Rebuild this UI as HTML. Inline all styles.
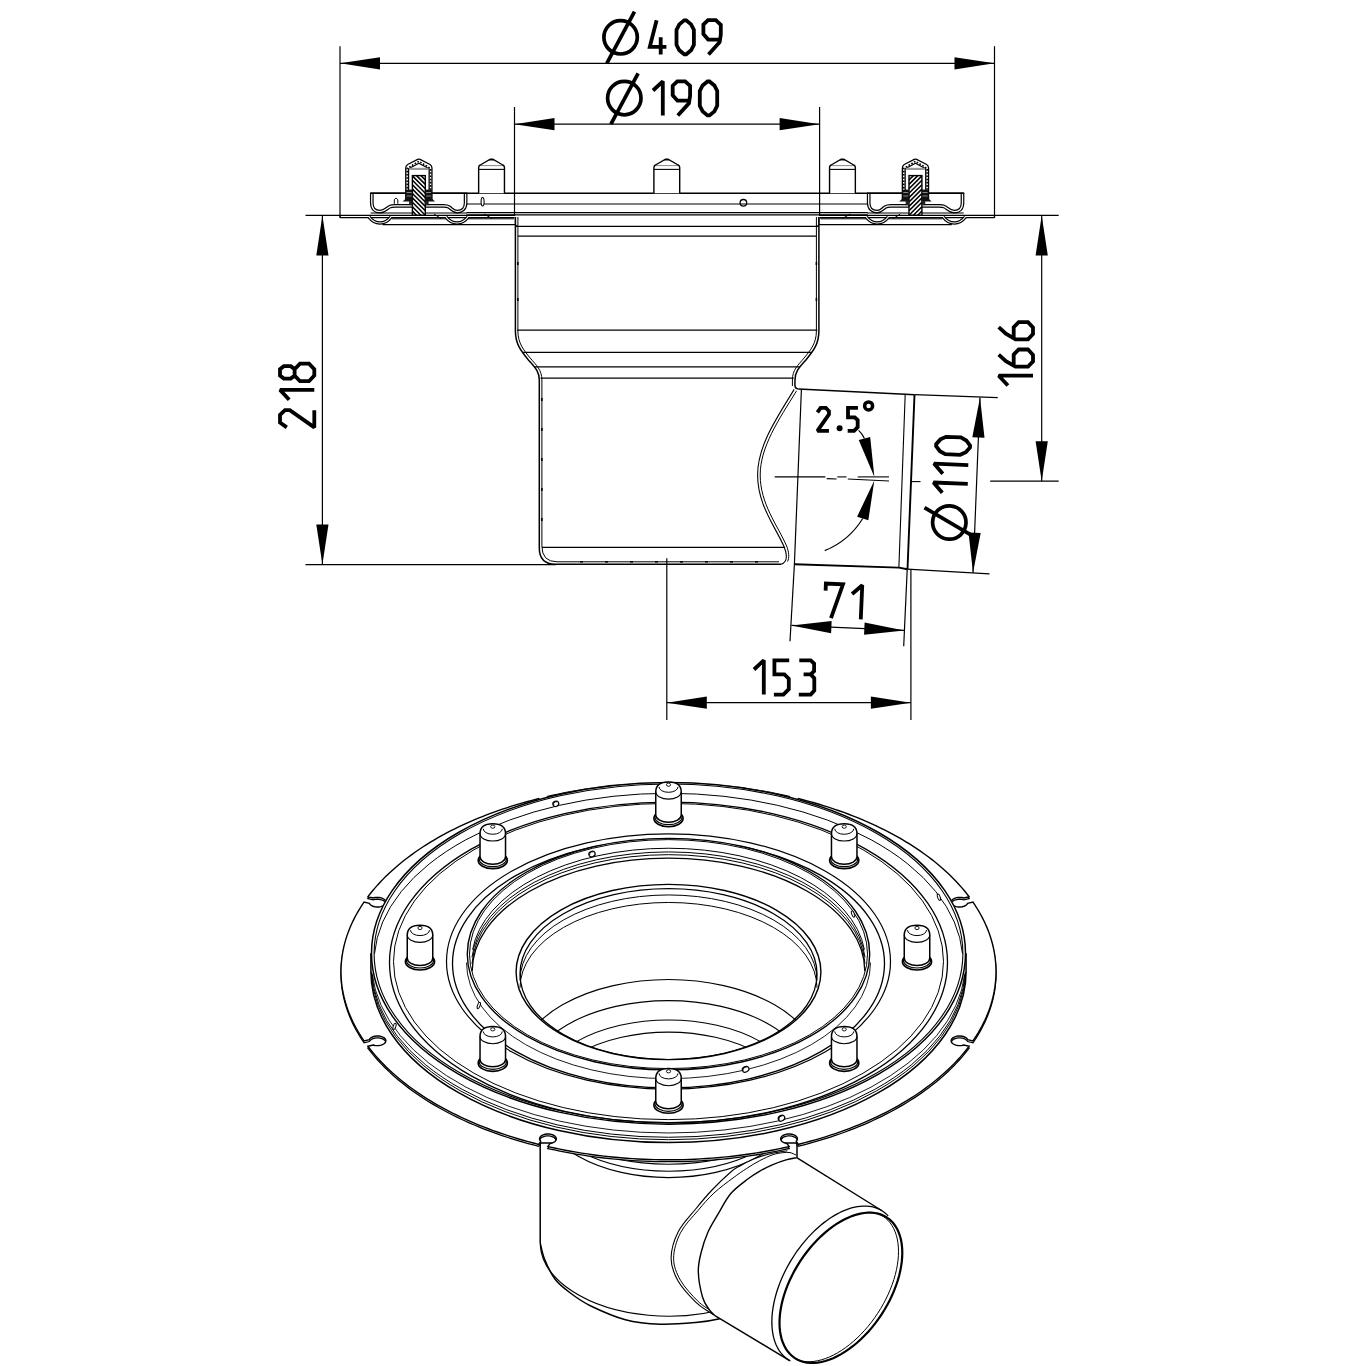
<!DOCTYPE html>
<html><head><meta charset="utf-8"><title>Drawing</title>
<style>
html,body{margin:0;padding:0;background:#fff;}
body{width:1366px;height:1366px;overflow:hidden;font-family:"Liberation Sans",sans-serif;}
svg{display:block}
</style></head><body>
<svg width="1366" height="1366" viewBox="0 0 1366 1366" shape-rendering="geometricPrecision">
<rect width="1366" height="1366" fill="#fff"/>
<path d="M340.00,46.20 L340.00,217.50" stroke="#000" stroke-width="1.2" fill="none" />
<path d="M994.50,46.20 L994.50,217.50" stroke="#000" stroke-width="1.2" fill="none" />
<path d="M340.00,63.30 L994.50,63.30" stroke="#000" stroke-width="1.2" fill="none" />
<path d="M340.00,63.30 L380.00,69.40 L380.00,57.20 Z" fill="#000" stroke="none"/>
<path d="M994.50,63.30 L954.50,57.20 L954.50,69.40 Z" fill="#000" stroke="none"/>
<g transform="translate(620.60,37.30) rotate(0)" fill="none" stroke="#000" stroke-width="3.7"><circle r="16.7"/><path d="M-13.8,26.1 L13.9,-25.6"/></g>
<g transform="translate(649.80,20.20) rotate(0) scale(1.0)" fill="none" stroke="#000" stroke-width="3.80" stroke-linejoin="miter" stroke-miterlimit="2" stroke-linecap="butt"><path transform="translate(0.00,0)" d="M6.8,0 L0,26.6 L16.6,26.6 M10.9,17 L10.9,34.3"/><path transform="translate(26.70,0)" d="M7.7,0.2 L9.7,0.2 L14.6,4.2 L17.4,9.7 L17.4,24.6 L14.6,30.1 L9.7,34.1 L7.7,34.1 L2.8,30.1 L0,24.6 L0,9.7 L2.8,4.2 Z"/><path transform="translate(53.60,0)" d="M5.1,34.3 L16.2,22 L17.4,14.5 L17.4,4.6 L12.4,0 L4.6,0 L0,4.4 L0,13.9 L4.8,19.4 L16.6,19.4"/></g>
<path d="M514.50,107.00 L514.50,216.00" stroke="#000" stroke-width="1.2" fill="none" />
<path d="M819.60,107.00 L819.60,216.00" stroke="#000" stroke-width="1.2" fill="none" />
<path d="M514.50,124.20 L819.60,124.20" stroke="#000" stroke-width="1.2" fill="none" />
<path d="M514.50,124.20 L554.50,130.30 L554.50,118.10 Z" fill="#000" stroke="none"/>
<path d="M819.60,124.20 L779.60,118.10 L779.60,130.30 Z" fill="#000" stroke="none"/>
<g transform="translate(624.30,98.10) rotate(0)" fill="none" stroke="#000" stroke-width="3.7"><circle r="16.7"/><path d="M-13.4,26.1 L13.8,-24.8"/></g>
<g transform="translate(653.00,81.30) rotate(0) scale(1.0)" fill="none" stroke="#000" stroke-width="3.80" stroke-linejoin="miter" stroke-miterlimit="2" stroke-linecap="butt"><path transform="translate(0.00,0)" d="M0,9.2 L9.8,0 L9.8,34.3"/><path transform="translate(19.70,0)" d="M5.1,34.3 L16.2,22 L17.4,14.5 L17.4,4.6 L12.4,0 L4.6,0 L0,4.4 L0,13.9 L4.8,19.4 L16.6,19.4"/><path transform="translate(46.80,0)" d="M7.7,0.2 L9.7,0.2 L14.6,4.2 L17.4,9.7 L17.4,24.6 L14.6,30.1 L9.7,34.1 L7.7,34.1 L2.8,30.1 L0,24.6 L0,9.7 L2.8,4.2 Z"/></g>
<path d="M305.50,215.40 L341.00,215.40" stroke="#000" stroke-width="1.2" fill="none" />
<path d="M305.50,564.60 L556.00,564.60" stroke="#000" stroke-width="1.2" fill="none" />
<path d="M322.40,215.40 L322.40,564.60" stroke="#000" stroke-width="1.2" fill="none" />
<path d="M322.40,215.40 L316.30,255.40 L328.50,255.40 Z" fill="#000" stroke="none"/>
<path d="M322.40,564.60 L328.50,524.60 L316.30,524.60 Z" fill="#000" stroke="none"/>
<g transform="translate(280.00,427.40) rotate(-90) scale(1.0)" fill="none" stroke="#000" stroke-width="3.80" stroke-linejoin="miter" stroke-miterlimit="2" stroke-linecap="butt"><path transform="translate(0.00,0)" d="M0,6.8 L4.8,0 L12.5,0 L17.2,5 L17.2,9.8 L0,34.3 L17.2,34.3"/><path transform="translate(27.70,0)" d="M0,9.2 L9.8,0 L9.8,34.3"/><path transform="translate(46.20,0)" d="M5.6,0 L12,0 L15,3.8 L15,10.8 L12,14.6 L5.6,14.6 L2.6,10.8 L2.6,3.8 Z M5.6,14.6 L12,14.6 L17.6,20 L17.6,29 L12,34.3 L5.6,34.3 L0,29 L0,20 Z"/></g>
<path d="M994.50,215.40 L1058.70,215.40" stroke="#000" stroke-width="1.2" fill="none" />
<path d="M990.20,481.20 L1058.70,481.20" stroke="#000" stroke-width="1.2" fill="none" />
<path d="M1041.70,215.40 L1041.70,481.20" stroke="#000" stroke-width="1.2" fill="none" />
<path d="M1041.70,215.40 L1035.60,255.40 L1047.80,255.40 Z" fill="#000" stroke="none"/>
<path d="M1041.70,481.20 L1047.80,441.20 L1035.60,441.20 Z" fill="#000" stroke="none"/>
<g transform="translate(998.70,385.50) rotate(-90) scale(1.0)" fill="none" stroke="#000" stroke-width="3.80" stroke-linejoin="miter" stroke-miterlimit="2" stroke-linecap="butt"><path transform="translate(0.00,0)" d="M0,9.2 L9.8,0 L9.8,34.3"/><path transform="translate(18.80,0)" d="M12.1,0 L5.6,7.2 L0,16.8 L0,29.3 L5.3,34.3 L11.8,34.3 L17.2,29.3 L17.2,20 L12.1,15 L1.2,15"/><path transform="translate(46.20,0)" d="M12.1,0 L5.6,7.2 L0,16.8 L0,29.3 L5.3,34.3 L11.8,34.3 L17.2,29.3 L17.2,20 L12.1,15 L1.2,15"/></g>
<path d="M914.50,394.60 L997.70,397.70" stroke="#000" stroke-width="1.2" fill="none" />
<path d="M907.30,569.20 L989.50,573.90" stroke="#000" stroke-width="1.2" fill="none" />
<path d="M980.00,397.60 L973.00,572.80" stroke="#000" stroke-width="1.2" fill="none" />
<path d="M980.00,397.60 L972.31,437.32 L984.50,437.81 Z" fill="#000" stroke="none"/>
<path d="M973.00,572.80 L980.69,533.08 L968.50,532.59 Z" fill="#000" stroke="none"/>
<g transform="translate(949.30,522.50) rotate(-87.6)" fill="none" stroke="#000" stroke-width="3.7"><circle r="16.7"/><path d="M-13.6,26.0 L13.8,-25.4"/></g>
<g transform="translate(933.10,492.30) rotate(-87.6) scale(1.0)" fill="none" stroke="#000" stroke-width="3.80" stroke-linejoin="miter" stroke-miterlimit="2" stroke-linecap="butt"><path transform="translate(0.00,0)" d="M0,9.2 L9.8,0 L9.8,34.3"/></g>
<g transform="translate(933.60,473.40) rotate(-87.6) scale(1.0)" fill="none" stroke="#000" stroke-width="3.80" stroke-linejoin="miter" stroke-miterlimit="2" stroke-linecap="butt"><path transform="translate(0.00,0)" d="M0,9.2 L9.8,0 L9.8,34.3"/></g>
<g transform="translate(935.60,453.80) rotate(-87.6) scale(1.0)" fill="none" stroke="#000" stroke-width="3.80" stroke-linejoin="miter" stroke-miterlimit="2" stroke-linecap="butt"><path transform="translate(0.00,0)" d="M7.7,0.2 L9.7,0.2 L14.6,4.2 L17.4,9.7 L17.4,24.6 L14.6,30.1 L9.7,34.1 L7.7,34.1 L2.8,30.1 L0,24.6 L0,9.7 L2.8,4.2 Z"/></g>
<path d="M794.40,564.30 L790.00,641.20" stroke="#000" stroke-width="1.2" fill="none" />
<path d="M907.20,569.50 L903.70,646.30" stroke="#000" stroke-width="1.2" fill="none" />
<path d="M791.40,625.40 L904.30,630.40" stroke="#000" stroke-width="1.2" fill="none" />
<path d="M791.40,625.40 L831.10,633.24 L831.63,621.05 Z" fill="#000" stroke="none"/>
<path d="M904.30,630.40 L864.60,622.56 L864.07,634.75 Z" fill="#000" stroke="none"/>
<g transform="translate(825.90,583.60) rotate(2.5) scale(1.0)" fill="none" stroke="#000" stroke-width="3.80" stroke-linejoin="miter" stroke-miterlimit="2" stroke-linecap="butt"><path transform="translate(0.00,0)" d="M0,7 L0,0 L17.1,0 L6.6,34.3"/><path transform="translate(26.60,0)" d="M0,9.2 L9.8,0 L9.8,34.3"/></g>
<path d="M666.80,558.20 L666.80,720.10" stroke="#000" stroke-width="1.2" fill="none" />
<path d="M910.90,569.00 L910.90,720.10" stroke="#000" stroke-width="1.2" fill="none" />
<path d="M666.80,702.70 L910.90,702.70" stroke="#000" stroke-width="1.2" fill="none" />
<path d="M666.80,702.70 L706.80,708.80 L706.80,696.60 Z" fill="#000" stroke="none"/>
<path d="M910.90,702.70 L870.90,696.60 L870.90,708.80 Z" fill="#000" stroke="none"/>
<g transform="translate(754.00,660.30) rotate(0) scale(1.0)" fill="none" stroke="#000" stroke-width="3.80" stroke-linejoin="miter" stroke-miterlimit="2" stroke-linecap="butt"><path transform="translate(0.00,0)" d="M0,9.2 L9.8,0 L9.8,34.3"/><path transform="translate(20.40,0)" d="M14.8,0 L0,0 L0,14.1 L10,14.1 L14.4,18.4 L14.4,28.8 L9,34.3 L-0.5,34.3"/><path transform="translate(45.30,0)" d="M0,0 L11.4,0 L14.8,3.2 L14.8,10.8 L11.4,14.1 L4.3,14.1 M11.4,14.1 L15,17.9 L15,30.3 L11.4,34.3 L-0.5,34.3"/></g>
<path d="M874.40,477.00 L870.16,437.03 L858.73,439.98 Z" fill="#000"/>
<path d="M874.32,480.60 L857.06,516.76 L868.34,520.22 Z" fill="#000"/>
<path d="M862.70,518.49 A79.4,79.4 0 0 1 824.74,550.62" stroke="#000" stroke-width="1.2" fill="none" />
<path d="M864.44,438.51 Q862.5,434 858.6,430.4" stroke="#000" stroke-width="1.2" fill="none" />
<path d="M774.70,476.90 L825.40,476.90" stroke="#000" stroke-width="1.1" fill="none" />
<path d="M837.30,476.90 L846.50,476.90" stroke="#000" stroke-width="1.1" fill="none" />
<path d="M857.70,476.90 L889.00,476.90" stroke="#000" stroke-width="1.1" fill="none" />
<path d="M826.70,478.60 L836.60,479.00" stroke="#000" stroke-width="1.1" fill="none" />
<path d="M847.80,479.00 L889.00,481.00" stroke="#000" stroke-width="1.1" fill="none" />
<path d="M912.00,481.60 L920.50,481.60" stroke="#000" stroke-width="1.1" fill="none" />
<g transform="translate(817.40,407.80) rotate(0) scale(0.672)" fill="none" stroke="#000" stroke-width="5.65" stroke-linejoin="miter" stroke-miterlimit="2" stroke-linecap="butt"><path transform="translate(0.00,0)" d="M0,6.8 L4.8,0 L12.5,0 L17.2,5 L17.2,9.8 L0,34.3 L17.2,34.3"/></g>
<circle cx="839.6" cy="428.2" r="3.0" fill="#000"/>
<g transform="translate(848.00,407.80) rotate(0) scale(0.672)" fill="none" stroke="#000" stroke-width="5.65" stroke-linejoin="miter" stroke-miterlimit="2" stroke-linecap="butt"><path transform="translate(0.00,0)" d="M14.8,0 L0,0 L0,14.1 L10,14.1 L14.4,18.4 L14.4,28.8 L9,34.3 L-0.5,34.3"/></g>
<circle cx="868.6" cy="405.9" r="4.0" fill="none" stroke="#000" stroke-width="3.5"/>
<path d="M340,215.4 L514.5,215.4 M340,217.7 L514.5,217.7 M340,215.4 L340,217.7" stroke="#000" stroke-width="1.2" fill="none" />
<path d="M819.6,215.4 L994.5,215.4 M819.6,217.7 L994.5,217.7 M994.5,215.4 L994.5,217.7" stroke="#000" stroke-width="1.2" fill="none" />
<path d="M370.60,193.30 L963.70,193.30" stroke="#000" stroke-width="1.5" fill="none" />
<path d="M466.50,204.00 L867.80,204.00" stroke="#000" stroke-width="1.1" fill="none" />
<path d="M466.50,212.70 L867.80,212.70" stroke="#000" stroke-width="1.3" fill="none" />
<path d="M466.50,214.80 L867.80,214.80" stroke="#000" stroke-width="1.3" fill="none" />
<circle cx="743.4" cy="202.8" r="3.3" fill="#fff" stroke="#000" stroke-width="1.3"/>
<path d="M740.20,204.00 L746.60,204.00" stroke="#000" stroke-width="1.0" fill="none" />
<path d="M515.4,217 L515.4,331 C515.4,344 521,351 528,359.5 C534.5,367 539.3,371 539.3,380 L539.3,548 Q539.3,564.2 555.5,564.2 L781,564.2" stroke="#000" stroke-width="1.5" fill="none" />
<path d="M517.9,226 L517.9,331 C517.9,343 523.5,350 530.2,358 C536.5,365.5 541.9,370 541.9,380 L541.9,546 Q541.9,561.8 557,561.8 L779,561.8" stroke="#000" stroke-width="1.0" fill="none" />
<path d="M818.9,217 L818.9,331 C818.9,344 813.3,351 806.3,359.5 C799.8,367 795.0,371 795.0,380 L794.9,385 Q794.9,388.7 798.5,388.9" stroke="#000" stroke-width="1.5" fill="none" />
<path d="M816.4,226 L816.4,331 C816.4,343 810.8,350 804.1,358 C797.8,365.5 792.4,370 792.4,380 L792.4,386" stroke="#000" stroke-width="1.0" fill="none" />
<path d="M515.4,217 L515.4,224 Q515.4,226.3 517.9,226.3 L517.9,217" stroke="#000" stroke-width="1.0" fill="none" />
<path d="M818.9,217 L818.9,224 Q818.9,226.3 816.4,226.3 L816.4,217" stroke="#000" stroke-width="1.0" fill="none" />
<path d="M515.40,226.40 L818.90,226.40" stroke="#000" stroke-width="1.2" fill="none" />
<path d="M517.90,236.20 L816.40,236.20" stroke="#000" stroke-width="1.2" fill="none" />
<path d="M517.00,330.20 L817.30,330.20" stroke="#000" stroke-width="1.2" fill="none" />
<path d="M523.20,352.30 L811.10,352.30" stroke="#000" stroke-width="1.2" fill="none" />
<path d="M534.20,366.90 L800.10,366.90" stroke="#000" stroke-width="1.2" fill="none" />
<path d="M540.50,378.20 L793.80,378.20" stroke="#000" stroke-width="1.2" fill="none" />
<path d="M541.90,547.40 L785.00,547.40" stroke="#000" stroke-width="1.2" fill="none" />
<path d="M517.90,262.00 L517.90,265.00" stroke="#000" stroke-width="1.6" fill="none" />
<path d="M816.40,262.00 L816.40,265.00" stroke="#000" stroke-width="1.6" fill="none" />
<path d="M517.90,298.00 L517.90,301.00" stroke="#000" stroke-width="1.6" fill="none" />
<path d="M816.40,298.00 L816.40,301.00" stroke="#000" stroke-width="1.6" fill="none" />
<path d="M541.90,398.00 L541.90,401.00" stroke="#000" stroke-width="1.6" fill="none" />
<path d="M541.90,428.00 L541.90,431.00" stroke="#000" stroke-width="1.6" fill="none" />
<path d="M541.90,458.00 L541.90,461.00" stroke="#000" stroke-width="1.6" fill="none" />
<path d="M541.90,488.00 L541.90,491.00" stroke="#000" stroke-width="1.6" fill="none" />
<path d="M541.90,518.00 L541.90,521.00" stroke="#000" stroke-width="1.6" fill="none" />
<path d="M580.00,561.80 L583.00,561.80" stroke="#000" stroke-width="1.6" fill="none" />
<path d="M605.00,561.80 L608.00,561.80" stroke="#000" stroke-width="1.6" fill="none" />
<path d="M630.00,561.80 L633.00,561.80" stroke="#000" stroke-width="1.6" fill="none" />
<path d="M655.00,561.80 L658.00,561.80" stroke="#000" stroke-width="1.6" fill="none" />
<path d="M680.00,561.80 L683.00,561.80" stroke="#000" stroke-width="1.6" fill="none" />
<path d="M705.00,561.80 L708.00,561.80" stroke="#000" stroke-width="1.6" fill="none" />
<path d="M730.00,561.80 L733.00,561.80" stroke="#000" stroke-width="1.6" fill="none" />
<path d="M755.00,561.80 L758.00,561.80" stroke="#000" stroke-width="1.6" fill="none" />
<path d="M798.5,388.9 L905.2,394.2 L914.5,394.8" stroke="#000" stroke-width="1.5" fill="none" />
<path d="M914.5,394.8 L907.5,569.2" stroke="#000" stroke-width="1.9" fill="none" />
<path d="M905.2,394.2 L898.9,567.0" stroke="#000" stroke-width="1.1" fill="none" />
<path d="M794.4,564.3 L898.9,567.6 L907.5,569.2" stroke="#000" stroke-width="1.9" fill="none" />
<path d="M801.4,389.6 L794.4,564.3" stroke="#000" stroke-width="1.2" fill="none" />
<path d="M794.2,389.4 C776,419 757.6,446 757.6,475 C757.6,505 775,526 784.2,547 C786.6,553 787,558 785.3,561 Q783.8,563.6 781,564.2" stroke="#000" stroke-width="1.1" fill="none" />
<path d="M796.6,390.8 C778.5,420 760.2,447 760.2,475 C760.2,504 777.5,525 786.6,546 C789,552 789.5,558 787.5,561.5" stroke="#000" stroke-width="1.0" fill="none" />
<path d="M371.8,193.3 L371.8,203 C371.8,208.6 375,211.6 380,211.6 C385,211.6 387,208 390,206.6 C391.5,205.8 393,205.8 395,205.8 L443.5,205.8 C446,205.8 447.5,206 449,207 C452,209 453,211.6 457.3,211.6 C462,211.6 465.6,208.6 465.6,203 L465.6,193.3" fill="none" stroke="#000" stroke-width="3.7"/>
<path d="M371.8,193.3 L371.8,203 C371.8,208.6 375,211.6 380,211.6 C385,211.6 387,208 390,206.6 C391.5,205.8 393,205.8 395,205.8 L443.5,205.8 C446,205.8 447.5,206 449,207 C452,209 453,211.6 457.3,211.6 C462,211.6 465.6,208.6 465.6,203 L465.6,193.3" fill="none" stroke="#fff" stroke-width="1.3"/>
<path d="M370.00,193.30 L467.40,193.30" stroke="#000" stroke-width="1.5" fill="none" />
<path d="M370.60,213.00 L467.00,213.00" stroke="#000" stroke-width="1.2" fill="none" />
<path d="M392.00,218.80 L446.00,218.80" stroke="#000" stroke-width="1.0" fill="none" />
<path d="M468.00,218.80 L514.00,218.80" stroke="#000" stroke-width="1.0" fill="none" />
<path d="M369.0,217 C372.0,221 376.0,223 380.0,223 C384.0,223 388.0,221 391.0,217" fill="none" stroke="#000" stroke-width="3.4"/>
<path d="M369.0,217 C372.0,221 376.0,223 380.0,223 C384.0,223 388.0,221 391.0,217" fill="none" stroke="#fff" stroke-width="1.1"/>
<path d="M446.0,217 C449.0,221 453.0,223 457.0,223 C461.0,223 465.0,221 468.0,217" fill="none" stroke="#000" stroke-width="3.4"/>
<path d="M446.0,217 C449.0,221 453.0,223 457.0,223 C461.0,223 465.0,221 468.0,217" fill="none" stroke="#fff" stroke-width="1.1"/>
<path d="M382.50,224.70 L515.40,224.70" stroke="#000" stroke-width="1.3" fill="none" />
<path d="M434.00,214.00 L441.00,218.60" stroke="#000" stroke-width="1.0" fill="none" />
<path d="M484.00,214.00 L492.00,218.60" stroke="#000" stroke-width="1.0" fill="none" />
<rect x="412.40" y="175.6" width="12.90" height="39.6" fill="#fff" stroke="#000" stroke-width="1.4"/>
<path d="M425.30,180.00 L420.90,175.60 M425.30,184.40 L416.50,175.60 M425.30,188.80 L412.40,175.90 M425.30,193.20 L412.40,180.30 M425.30,197.60 L412.40,184.70 M425.30,202.00 L412.40,189.10 M425.30,206.40 L412.40,193.50 M425.30,210.80 L412.40,197.90 M425.30,215.20 L412.40,202.30 M420.90,215.20 L412.40,206.70 M416.50,215.20 L412.40,211.10" stroke="#000" stroke-width="1.5" fill="none"/>
<path d="M405.75,201 L405.75,168.0 Q405.75,165.6 407.65000000000003,164.5 L417.65000000000003,159.4 Q418.85,158.8 420.05,159.4 L430.05,164.5 Q431.95000000000005,165.6 431.95000000000005,168.0 L431.95000000000005,201" fill="none" stroke="#000" stroke-width="1.3" stroke-linejoin="round"/>
<path d="M408.55,190 L408.55,168.8 L418.85,163.2 L429.15000000000003,168.8 L429.15000000000003,190" fill="none" stroke="#000" stroke-width="1.3" stroke-linejoin="round"/>
<path d="M407.15000000000003,198 L407.15000000000003,168.4 L418.85,161.3 L430.55,168.4 L430.55,198" fill="none" stroke="#000" stroke-width="1.6" stroke-dasharray="1.6 1.6"/>
<path d="M409.25,168.9 L428.45000000000005,168.9" stroke="#999" stroke-width="2.2" fill="none"/>
<rect x="405.85" y="189.6" width="6.6" height="11" fill="#111"/>
<rect x="425.25" y="189.6" width="6.6" height="11" fill="#111"/>
<path d="M402.65000000000003,201.6 L405.85,198.6 L412.45000000000005,198.6 L412.45000000000005,201.6 Z" fill="#111"/>
<path d="M435.05,201.6 L431.85,198.6 L425.25,198.6 L425.25,201.6 Z" fill="#111"/>
<rect x="409.05" y="201" width="3.4" height="4.2" fill="#222"/>
<rect x="425.25" y="201" width="3.4" height="4.2" fill="#222"/>
<path d="M406.65000000000003,192.5 L411.65000000000003,192.5 M406.65000000000003,196 L411.65000000000003,196 M426.05,192.5 L431.05,192.5 M426.05,196 L431.05,196" stroke="#bbb" stroke-width="0.7"/>
<path d="M962.5,193.3 L962.5,203 C962.5,208.6 959.3,211.6 954.3,211.6 C949.3,211.6 947.3,208 944.3,206.6 C942.8,205.8 941.3,205.8 939.3,205.8 L890.8,205.8 C888.3,205.8 886.8,206 885.3,207 C882.3,209 881.3,211.6 877.0,211.6 C872.3,211.6 868.6999999999999,208.6 868.6999999999999,203 L868.6999999999999,193.3" fill="none" stroke="#000" stroke-width="3.7"/>
<path d="M962.5,193.3 L962.5,203 C962.5,208.6 959.3,211.6 954.3,211.6 C949.3,211.6 947.3,208 944.3,206.6 C942.8,205.8 941.3,205.8 939.3,205.8 L890.8,205.8 C888.3,205.8 886.8,206 885.3,207 C882.3,209 881.3,211.6 877.0,211.6 C872.3,211.6 868.6999999999999,208.6 868.6999999999999,203 L868.6999999999999,193.3" fill="none" stroke="#fff" stroke-width="1.3"/>
<path d="M964.30,193.30 L866.90,193.30" stroke="#000" stroke-width="1.5" fill="none" />
<path d="M963.70,213.00 L867.30,213.00" stroke="#000" stroke-width="1.2" fill="none" />
<path d="M942.30,218.80 L888.30,218.80" stroke="#000" stroke-width="1.0" fill="none" />
<path d="M866.30,218.80 L820.30,218.80" stroke="#000" stroke-width="1.0" fill="none" />
<path d="M965.3,217 C962.3,221 958.3,223 954.3,223 C950.3,223 946.3,221 943.3,217" fill="none" stroke="#000" stroke-width="3.4"/>
<path d="M965.3,217 C962.3,221 958.3,223 954.3,223 C950.3,223 946.3,221 943.3,217" fill="none" stroke="#fff" stroke-width="1.1"/>
<path d="M888.3,217 C885.3,221 881.3,223 877.3,223 C873.3,223 869.3,221 866.3,217" fill="none" stroke="#000" stroke-width="3.4"/>
<path d="M888.3,217 C885.3,221 881.3,223 877.3,223 C873.3,223 869.3,221 866.3,217" fill="none" stroke="#fff" stroke-width="1.1"/>
<path d="M951.80,224.70 L818.90,224.70" stroke="#000" stroke-width="1.3" fill="none" />
<path d="M900.30,214.00 L893.30,218.60" stroke="#000" stroke-width="1.0" fill="none" />
<path d="M850.30,214.00 L842.30,218.60" stroke="#000" stroke-width="1.0" fill="none" />
<rect x="909.00" y="175.6" width="12.90" height="39.6" fill="#fff" stroke="#000" stroke-width="1.4"/>
<path d="M909.00,180.00 L913.40,175.60 M909.00,184.40 L917.80,175.60 M909.00,188.80 L921.90,175.90 M909.00,193.20 L921.90,180.30 M909.00,197.60 L921.90,184.70 M909.00,202.00 L921.90,189.10 M909.00,206.40 L921.90,193.50 M909.00,210.80 L921.90,197.90 M909.00,215.20 L921.90,202.30 M913.40,215.20 L921.90,206.70 M917.80,215.20 L921.90,211.10" stroke="#000" stroke-width="1.5" fill="none"/>
<path d="M902.3499999999999,201 L902.3499999999999,168.0 Q902.3499999999999,165.6 904.2499999999999,164.5 L914.2499999999999,159.4 Q915.4499999999999,158.8 916.65,159.4 L926.65,164.5 Q928.55,165.6 928.55,168.0 L928.55,201" fill="none" stroke="#000" stroke-width="1.3" stroke-linejoin="round"/>
<path d="M905.15,190 L905.15,168.8 L915.4499999999999,163.2 L925.7499999999999,168.8 L925.7499999999999,190" fill="none" stroke="#000" stroke-width="1.3" stroke-linejoin="round"/>
<path d="M903.7499999999999,198 L903.7499999999999,168.4 L915.4499999999999,161.3 L927.15,168.4 L927.15,198" fill="none" stroke="#000" stroke-width="1.6" stroke-dasharray="1.6 1.6"/>
<path d="M905.8499999999999,168.9 L925.05,168.9" stroke="#999" stroke-width="2.2" fill="none"/>
<rect x="902.4499999999999" y="189.6" width="6.6" height="11" fill="#111"/>
<rect x="921.8499999999999" y="189.6" width="6.6" height="11" fill="#111"/>
<path d="M899.2499999999999,201.6 L902.4499999999999,198.6 L909.05,198.6 L909.05,201.6 Z" fill="#111"/>
<path d="M931.65,201.6 L928.4499999999999,198.6 L921.8499999999999,198.6 L921.8499999999999,201.6 Z" fill="#111"/>
<rect x="905.65" y="201" width="3.4" height="4.2" fill="#222"/>
<rect x="921.8499999999999" y="201" width="3.4" height="4.2" fill="#222"/>
<path d="M903.2499999999999,192.5 L908.2499999999999,192.5 M903.2499999999999,196 L908.2499999999999,196 M922.65,192.5 L927.65,192.5 M922.65,196 L927.65,196" stroke="#bbb" stroke-width="0.7"/>
<path d="M478.65000000000003,193.3 L478.65000000000003,167.6 Q478.65000000000003,165.8 480.25000000000006,165 L490.25,159.2 L492.85,159.2 L502.84999999999997,165 Q504.45,165.8 504.45,167.6 L504.45,193.3" fill="#fff" stroke="#000" stroke-width="1.4"/>
<path d="M478.65,169.40 L504.45,169.40" stroke="#000" stroke-width="1.1" fill="none" />
<path d="M480.15,165.60 L502.95,165.60" stroke="#000" stroke-width="0.8" fill="none" opacity="0.6"/>
<path d="M488.95,160.50 L494.15,160.50" stroke="#000" stroke-width="0.8" fill="none" opacity="0.6"/>
<path d="M653.9,193.3 L653.9,167.6 Q653.9,165.8 655.5,165 L665.5,159.2 L668.0999999999999,159.2 L678.0999999999999,165 Q679.6999999999999,165.8 679.6999999999999,167.6 L679.6999999999999,193.3" fill="#fff" stroke="#000" stroke-width="1.4"/>
<path d="M653.90,169.40 L679.70,169.40" stroke="#000" stroke-width="1.1" fill="none" />
<path d="M655.40,165.60 L678.20,165.60" stroke="#000" stroke-width="0.8" fill="none" opacity="0.6"/>
<path d="M664.20,160.50 L669.40,160.50" stroke="#000" stroke-width="0.8" fill="none" opacity="0.6"/>
<path d="M829.5500000000001,193.3 L829.5500000000001,167.6 Q829.5500000000001,165.8 831.1500000000001,165 L841.1500000000001,159.2 L843.75,159.2 L853.75,165 Q855.35,165.8 855.35,167.6 L855.35,193.3" fill="#fff" stroke="#000" stroke-width="1.4"/>
<path d="M829.55,169.40 L855.35,169.40" stroke="#000" stroke-width="1.1" fill="none" />
<path d="M831.05,165.60 L853.85,165.60" stroke="#000" stroke-width="0.8" fill="none" opacity="0.6"/>
<path d="M839.85,160.50 L845.05,160.50" stroke="#000" stroke-width="0.8" fill="none" opacity="0.6"/>
<ellipse cx="482.6" cy="201.7" rx="1.5" ry="4.2" fill="#fff" stroke="#000" stroke-width="1.1"/>
<path d="M394.3,203.8 L394.3,199.8 Q396,196.6 397.8,199.8 L397.8,203.8" stroke="#000" stroke-width="1.0" fill="none" />
<path d="M540.2,1143 L540.2,1243 C540.92,1245.67 542.02,1252.95 544.50,1259.00 C546.98,1265.05 550.68,1273.55 555.10,1279.30 C559.52,1285.05 565.13,1289.10 571.00,1293.50 C576.87,1297.90 581.23,1301.33 590.30,1305.70 C599.37,1310.07 613.70,1316.62 625.40,1319.70 C637.10,1322.78 648.78,1323.73 660.50,1324.20 C672.22,1324.67 686.03,1323.38 695.70,1322.50 C705.37,1321.62 710.28,1320.82 718.50,1318.90 C726.72,1316.98 740.58,1312.32 745.00,1311.00 L797,1250 L797,1143 Z" stroke="#000" stroke-width="1.5" fill="#fff" />
<path d="M789.06,1267.63 A128.30,73.77 0 0 1 540.28,1244.97" stroke="#000" stroke-width="1.2" fill="none" />
<path d="M810.11,1093.44 A143.00,82.22 0 0 1 526.89,1093.44" stroke="#000" stroke-width="1.1" fill="none" />
<path d="M799.28,1103.50 A131.50,75.61 0 0 1 537.72,1103.50" stroke="#000" stroke-width="1.1" fill="none" />
<path d="M796.80,1103.90 A128.30,73.77 0 0 1 540.20,1103.90" stroke="#000" stroke-width="1.2" fill="none" />
<path d="M810.49,1098.88 A147.00,84.52 0 0 1 526.51,1098.88" stroke="#000" stroke-width="1.0" fill="none" />
<path d="M787.4,1150.7 C786.08,1150.92 783.00,1151.33 779.50,1152.00 C776.00,1152.67 770.78,1153.48 766.40,1154.70 C762.02,1155.92 757.60,1157.43 753.20,1159.30 C748.80,1161.17 743.73,1163.78 740.00,1165.90 C736.27,1168.02 735.47,1167.98 730.80,1172.00 C726.13,1176.02 717.85,1183.83 712.00,1190.00 C706.15,1196.17 701.35,1202.02 695.70,1209.00 C690.05,1215.98 682.20,1223.68 678.10,1231.90 C674.00,1240.12 671.10,1250.10 671.10,1258.30 C671.10,1266.50 674.00,1273.78 678.10,1281.10 C682.20,1288.42 690.57,1297.08 695.70,1302.20 C700.83,1307.32 705.77,1309.62 708.90,1311.80 C712.03,1313.98 713.57,1314.72 714.50,1315.30 L789.22,1360.31 L810,1366 L900,1300 L905,1240 L882.03,1210.77 L796.7,1157.6 Z" stroke="#000" stroke-width="0" fill="#fff" stroke="none"/>
<path d="M787.40,1150.70 C786.08,1150.92 783.00,1151.33 779.50,1152.00 C776.00,1152.67 770.78,1153.48 766.40,1154.70 C762.02,1155.92 757.60,1157.43 753.20,1159.30 C748.80,1161.17 743.73,1163.78 740.00,1165.90 C736.27,1168.02 735.47,1167.98 730.80,1172.00 C726.13,1176.02 717.85,1183.83 712.00,1190.00 C706.15,1196.17 701.35,1202.02 695.70,1209.00 C690.05,1215.98 682.20,1223.68 678.10,1231.90 C674.00,1240.12 671.10,1250.10 671.10,1258.30 C671.10,1266.50 674.00,1273.78 678.10,1281.10 C682.20,1288.42 690.57,1297.08 695.70,1302.20 C700.83,1307.32 705.77,1309.62 708.90,1311.80 C712.03,1313.98 713.57,1314.72 714.50,1315.30" stroke="#000" stroke-width="1.1" fill="none" />
<path d="M796.00,1155.00 C795.00,1154.60 792.20,1152.98 790.00,1152.60 C787.80,1152.22 785.65,1152.35 782.80,1152.70 C779.95,1153.05 776.73,1153.38 772.90,1154.70 C769.07,1156.02 764.18,1158.30 759.80,1160.60 C755.42,1162.90 751.07,1165.60 746.60,1168.50 C742.13,1171.40 738.43,1173.92 733.00,1178.00 C727.57,1182.08 719.83,1187.58 714.00,1193.00 C708.17,1198.42 703.58,1203.87 698.00,1210.50 C692.42,1217.13 684.57,1224.83 680.50,1232.80 C676.43,1240.77 673.60,1250.38 673.60,1258.30 C673.60,1266.22 676.52,1273.22 680.50,1280.30 C684.48,1287.38 692.58,1295.82 697.50,1300.80 C702.42,1305.78 707.92,1308.63 710.00,1310.20" stroke="#000" stroke-width="1.0" fill="none" />
<path d="M796.70,1157.60 C794.93,1157.98 790.07,1158.73 786.10,1159.90 C782.13,1161.07 777.28,1162.73 772.90,1164.60 C768.52,1166.47 763.98,1168.70 759.80,1171.10 C755.62,1173.50 752.63,1175.27 747.80,1179.00 C742.97,1182.73 735.67,1187.80 730.80,1193.50 C725.93,1199.20 722.40,1206.78 718.60,1213.20 C714.80,1219.62 710.93,1225.37 708.00,1232.00 C705.07,1238.63 702.62,1246.37 701.00,1253.00 C699.38,1259.63 698.05,1264.47 698.30,1271.80 C698.55,1279.13 700.73,1290.77 702.50,1297.00 C704.27,1303.23 706.90,1306.15 708.90,1309.20 C710.90,1312.25 713.57,1314.28 714.50,1315.30" stroke="#000" stroke-width="1.4" fill="none" />
<path d="M796.70,1157.60 L882.03,1210.77" stroke="#000" stroke-width="1.4" fill="none" />
<path d="M714.50,1315.30 L789.22,1360.31" stroke="#000" stroke-width="1.4" fill="none" />
<path d="M790.38,1360.97 L788.55,1359.89 L786.80,1358.69 L785.14,1357.35 L783.56,1355.90 L782.07,1354.32 L780.68,1352.62 L779.38,1350.80 L778.18,1348.87 L777.08,1346.83 L776.08,1344.69 L775.18,1342.44 L774.39,1340.09 L773.70,1337.64 L773.12,1335.11 L772.65,1332.49 L772.29,1329.78 L772.03,1327.00 L771.89,1324.15 L771.86,1321.23 L771.94,1318.25 L772.12,1315.21 L772.42,1312.12 L772.83,1308.98 L773.35,1305.80 L773.97,1302.59 L774.70,1299.34 L775.54,1296.08 L776.48,1292.79 L777.52,1289.49 L778.67,1286.18 L779.91,1282.88 L781.25,1279.57 L782.68,1276.28 L784.21,1273.00 L785.82,1269.75 L787.52,1266.52 L789.30,1263.32 L791.17,1260.16 L793.11,1257.05 L795.12,1253.99 L797.20,1250.98 L799.35,1248.03 L801.56,1245.14 L803.84,1242.32 L806.16,1239.58 L808.54,1236.92 L810.96,1234.35 L813.43,1231.86 L815.93,1229.47 L818.47,1227.17 L821.04,1224.97 L823.63,1222.88 L826.24,1220.90 L828.87,1219.03 L831.51,1217.27 L834.16,1215.64 L836.81,1214.12 L839.45,1212.73 L842.09,1211.46 L844.72,1210.33 L847.33,1209.32 L849.93,1208.45 L852.49,1207.71 L855.03,1207.10 L857.53,1206.63 L859.99,1206.30 L862.41,1206.10 L864.79,1206.05 L867.11,1206.13 L869.38,1206.35 L871.59,1206.70 L873.73,1207.20 L875.81,1207.82 L877.82,1208.59 L879.75,1209.49 L881.61,1210.51 L883.39,1211.67 L885.08,1212.96 L886.69,1214.37 L888.21,1215.91" stroke="#000" stroke-width="1.3" fill="none" />
<path d="M886.90,1217.51 L889.46,1219.40 L891.81,1221.59 L893.95,1224.05 L895.85,1226.79 L897.53,1229.80 L898.96,1233.05 L900.14,1236.53 L901.07,1240.23 L901.74,1244.14 L902.15,1248.24 L902.29,1252.50 L902.18,1256.92 L901.80,1261.46 L901.16,1266.12 L900.27,1270.88 L899.12,1275.70 L897.72,1280.58 L896.07,1285.49 L894.19,1290.41 L892.09,1295.31 L889.76,1300.19 L887.22,1305.01 L884.49,1309.76 L881.57,1314.41 L878.47,1318.95 L875.22,1323.36 L871.81,1327.61 L868.28,1331.70 L864.62,1335.59 L860.87,1339.28 L857.03,1342.75 L853.12,1345.99 L849.16,1348.98 L845.16,1351.70 L841.15,1354.15 L837.13,1356.32 L833.13,1358.19 L829.17,1359.76 L825.25,1361.03 L821.40,1361.98 L817.63,1362.61 L813.97,1362.92 L810.42,1362.91 L807.00,1362.58 L803.72,1361.93 L800.61,1360.96 L797.66,1359.68 L794.90,1358.09 L792.34,1356.20 L789.99,1354.01 L787.85,1351.55 L785.95,1348.81 L784.27,1345.80 L782.84,1342.55 L781.66,1339.07 L780.73,1335.37 L780.06,1331.46 L779.65,1327.36 L779.51,1323.10 L779.62,1318.68 L780.00,1314.14 L780.64,1309.48 L781.53,1304.72 L782.68,1299.90 L784.08,1295.02 L785.73,1290.11 L787.61,1285.19 L789.71,1280.29 L792.04,1275.41 L794.58,1270.59 L797.31,1265.84 L800.23,1261.19 L803.33,1256.65 L806.58,1252.24 L809.99,1247.99 L813.52,1243.90 L817.18,1240.01 L820.93,1236.32 L824.77,1232.85 L828.68,1229.61 L832.64,1226.62 L836.64,1223.90 L840.65,1221.45 L844.67,1219.28 L848.67,1217.41 L852.63,1215.84 L856.55,1214.57 L860.40,1213.62 L864.17,1212.99 L867.83,1212.68 L871.38,1212.69 L874.80,1213.02 L878.08,1213.67 L881.19,1214.64 L884.14,1215.92 L886.90,1217.51 Z" stroke="#000" stroke-width="2.2" fill="#fff" />
<clipPath id="e1clip"><path d="M886.90,1217.51 L889.46,1219.40 L891.81,1221.59 L893.95,1224.05 L895.85,1226.79 L897.53,1229.80 L898.96,1233.05 L900.14,1236.53 L901.07,1240.23 L901.74,1244.14 L902.15,1248.24 L902.29,1252.50 L902.18,1256.92 L901.80,1261.46 L901.16,1266.12 L900.27,1270.88 L899.12,1275.70 L897.72,1280.58 L896.07,1285.49 L894.19,1290.41 L892.09,1295.31 L889.76,1300.19 L887.22,1305.01 L884.49,1309.76 L881.57,1314.41 L878.47,1318.95 L875.22,1323.36 L871.81,1327.61 L868.28,1331.70 L864.62,1335.59 L860.87,1339.28 L857.03,1342.75 L853.12,1345.99 L849.16,1348.98 L845.16,1351.70 L841.15,1354.15 L837.13,1356.32 L833.13,1358.19 L829.17,1359.76 L825.25,1361.03 L821.40,1361.98 L817.63,1362.61 L813.97,1362.92 L810.42,1362.91 L807.00,1362.58 L803.72,1361.93 L800.61,1360.96 L797.66,1359.68 L794.90,1358.09 L792.34,1356.20 L789.99,1354.01 L787.85,1351.55 L785.95,1348.81 L784.27,1345.80 L782.84,1342.55 L781.66,1339.07 L780.73,1335.37 L780.06,1331.46 L779.65,1327.36 L779.51,1323.10 L779.62,1318.68 L780.00,1314.14 L780.64,1309.48 L781.53,1304.72 L782.68,1299.90 L784.08,1295.02 L785.73,1290.11 L787.61,1285.19 L789.71,1280.29 L792.04,1275.41 L794.58,1270.59 L797.31,1265.84 L800.23,1261.19 L803.33,1256.65 L806.58,1252.24 L809.99,1247.99 L813.52,1243.90 L817.18,1240.01 L820.93,1236.32 L824.77,1232.85 L828.68,1229.61 L832.64,1226.62 L836.64,1223.90 L840.65,1221.45 L844.67,1219.28 L848.67,1217.41 L852.63,1215.84 L856.55,1214.57 L860.40,1213.62 L864.17,1212.99 L867.83,1212.68 L871.38,1212.69 L874.80,1213.02 L878.08,1213.67 L881.19,1214.64 L884.14,1215.92 L886.90,1217.51 Z"/></clipPath>
<path d="M883.10,1216.31 L885.66,1218.20 L888.01,1220.39 L890.15,1222.85 L892.05,1225.59 L893.73,1228.60 L895.16,1231.85 L896.34,1235.33 L897.27,1239.03 L897.94,1242.94 L898.35,1247.04 L898.49,1251.30 L898.38,1255.72 L898.00,1260.26 L897.36,1264.92 L896.47,1269.68 L895.32,1274.50 L893.92,1279.38 L892.27,1284.29 L890.39,1289.21 L888.29,1294.11 L885.96,1298.99 L883.42,1303.81 L880.69,1308.56 L877.77,1313.21 L874.67,1317.75 L871.42,1322.16 L868.01,1326.41 L864.48,1330.50 L860.82,1334.39 L857.07,1338.08 L853.23,1341.55 L849.32,1344.79 L845.36,1347.78 L841.36,1350.50 L837.35,1352.95 L833.33,1355.12 L829.33,1356.99 L825.37,1358.56 L821.45,1359.83 L817.60,1360.78 L813.83,1361.41 L810.17,1361.72 L806.62,1361.71 L803.20,1361.38 L799.92,1360.73 L796.81,1359.76 L793.86,1358.48 L791.10,1356.89 L788.54,1355.00 L786.19,1352.81 L784.05,1350.35 L782.15,1347.61 L780.47,1344.60 L779.04,1341.35 L777.86,1337.87 L776.93,1334.17 L776.26,1330.26 L775.85,1326.16 L775.71,1321.90 L775.82,1317.48 L776.20,1312.94 L776.84,1308.28 L777.73,1303.52 L778.88,1298.70 L780.28,1293.82 L781.93,1288.91 L783.81,1283.99 L785.91,1279.09 L788.24,1274.21 L790.78,1269.39 L793.51,1264.64 L796.43,1259.99 L799.53,1255.45 L802.78,1251.04 L806.19,1246.79 L809.72,1242.70 L813.38,1238.81 L817.13,1235.12 L820.97,1231.65 L824.88,1228.41 L828.84,1225.42 L832.84,1222.70 L836.85,1220.25 L840.87,1218.08 L844.87,1216.21 L848.83,1214.64 L852.75,1213.37 L856.60,1212.42 L860.37,1211.79 L864.03,1211.48 L867.58,1211.49 L871.00,1211.82 L874.28,1212.47 L877.39,1213.44 L880.34,1214.72 L883.10,1216.31 Z" stroke="#000" stroke-width="1.0" fill="none" clip-path="url(#e1clip)"/>
<path d="M996.00,973.40 L995.95,976.69 L995.80,979.97 L995.55,983.26 L995.20,986.54 L994.75,989.81 L994.21,993.08 L993.56,996.35 L992.81,999.61 L991.97,1002.86 L991.02,1006.10 L989.98,1009.33 L988.84,1012.55 L987.61,1015.76 L986.27,1018.96 L984.84,1022.14 L983.31,1025.31 L981.69,1028.46 L979.97,1031.59 L978.16,1034.71 L976.25,1037.81 L974.25,1040.89 L972.95,1042.80 L967.67,1041.54 L966.91,1040.42 L965.69,1039.44 L964.09,1038.66 L962.20,1038.14 L960.14,1037.90 L958.05,1037.96 L956.04,1038.32 L954.26,1038.95 L952.80,1039.82 L951.76,1040.87 L951.21,1042.03 L951.17,1043.23 L951.66,1044.41 L952.63,1045.48 L954.04,1046.37 L955.78,1047.04 L957.77,1047.44 L959.86,1047.54 L961.93,1047.34 L963.84,1046.85 L969.12,1048.11 L966.81,1051.12 L964.40,1054.10 L961.91,1057.06 L959.33,1059.99 L956.65,1062.89 L953.89,1065.77 L951.05,1068.62 L948.11,1071.44 L945.09,1074.23 L941.99,1076.99 L938.81,1079.72 L935.54,1082.42 L932.19,1085.08 L928.76,1087.71 L925.25,1090.30 L921.66,1092.86 L918.00,1095.39 L914.26,1097.87 L910.44,1100.32 L906.55,1102.73 L902.59,1105.10 L898.56,1107.43 L894.45,1109.71 L890.28,1111.96 L886.04,1114.16 L881.74,1116.33 L877.37,1118.44 L872.93,1120.52 L868.44,1122.55 L863.88,1124.53 L859.26,1126.47 L854.59,1128.36 L849.86,1130.20 L845.07,1132.00 L840.23,1133.75 L835.34,1135.45 L830.39,1137.10 L825.40,1138.70 L820.36,1140.24 L815.27,1141.74 L810.14,1143.19 L804.96,1144.59 L799.75,1145.93 L798.43,1146.26 L796.25,1143.22 L797.09,1142.12 L797.44,1140.93 L797.26,1139.73 L796.57,1138.59 L795.41,1137.58 L793.85,1136.78 L791.99,1136.21 L789.95,1135.94 L787.85,1135.96 L785.83,1136.28 L784.01,1136.87 L782.50,1137.71 L781.40,1138.74 L780.78,1139.89 L780.67,1141.09 L781.08,1142.28 L781.99,1143.36 L783.35,1144.29 L785.05,1144.99 L787.01,1145.42 L789.19,1148.46 L783.86,1149.64 L778.50,1150.77 L773.10,1151.85 L767.66,1152.87 L762.20,1153.84 L756.71,1154.75 L751.19,1155.61 L745.65,1156.41 L740.08,1157.16 L734.49,1157.85 L728.89,1158.48 L723.26,1159.06 L717.62,1159.58 L711.96,1160.05 L706.29,1160.45 L700.60,1160.81 L694.91,1161.10 L689.21,1161.34 L683.50,1161.51 L677.79,1161.64 L672.07,1161.70 L666.36,1161.71 L660.64,1161.66 L654.93,1161.55 L649.22,1161.39 L643.52,1161.16 L637.82,1160.88 L632.14,1160.55 L626.46,1160.15 L620.80,1159.70 L615.15,1159.20 L609.52,1158.63 L603.91,1158.01 L598.32,1157.34 L592.74,1156.61 L587.19,1155.82 L581.67,1154.97 L576.17,1154.07 L570.70,1153.12 L565.26,1152.11 L559.85,1151.05 L554.48,1149.93 L549.14,1148.76 L547.81,1148.46 L549.99,1145.42 L551.95,1144.99 L553.65,1144.29 L555.01,1143.36 L555.92,1142.28 L556.33,1141.09 L556.22,1139.89 L555.60,1138.74 L554.50,1137.71 L552.99,1136.87 L551.17,1136.28 L549.15,1135.96 L547.05,1135.94 L545.01,1136.21 L543.15,1136.78 L541.59,1137.58 L540.43,1138.59 L539.74,1139.73 L539.56,1140.93 L539.91,1142.12 L540.75,1143.22 L538.57,1146.26 L533.34,1144.93 L528.15,1143.54 L523.01,1142.11 L517.91,1140.62 L512.86,1139.09 L507.85,1137.50 L502.90,1135.86 L497.99,1134.18 L493.14,1132.44 L488.34,1130.66 L483.59,1128.83 L478.90,1126.95 L474.27,1125.02 L469.70,1123.05 L465.19,1121.03 L460.74,1118.97 L456.35,1116.86 L452.03,1114.71 L447.77,1112.52 L443.58,1110.28 L439.46,1108.00 L435.41,1105.68 L431.43,1103.32 L427.53,1100.93 L423.69,1098.49 L419.93,1096.01 L416.25,1093.50 L412.64,1090.95 L409.11,1088.36 L405.66,1085.74 L402.29,1083.09 L399.00,1080.40 L395.80,1077.68 L392.67,1074.93 L389.64,1072.14 L386.68,1069.33 L383.81,1066.49 L381.03,1063.62 L378.34,1060.72 L375.73,1057.79 L373.21,1054.84 L370.79,1051.87 L368.45,1048.87 L367.88,1048.11 L373.16,1046.85 L375.07,1047.34 L377.14,1047.54 L379.23,1047.44 L381.22,1047.04 L382.96,1046.37 L384.37,1045.48 L385.34,1044.41 L385.83,1043.23 L385.79,1042.03 L385.24,1040.87 L384.20,1039.82 L382.74,1038.95 L380.96,1038.32 L378.95,1037.96 L376.86,1037.90 L374.80,1038.14 L372.91,1038.66 L371.31,1039.44 L370.09,1040.42 L369.33,1041.54 L364.05,1042.80 L361.99,1039.73 L360.02,1036.65 L358.15,1033.54 L356.37,1030.42 L354.69,1027.28 L353.10,1024.12 L351.61,1020.95 L350.22,1017.76 L348.92,1014.56 L347.72,1011.35 L346.62,1008.12 L345.61,1004.89 L344.70,1001.64 L343.90,998.39 L343.19,995.13 L342.58,991.86 L342.07,988.59 L341.66,985.31 L341.34,982.03 L341.13,978.74 L341.02,975.45 L341.01,972.17 L341.09,968.88 L341.28,965.60 L341.57,962.31 L341.95,959.04 L342.44,955.76 L343.02,952.49 L343.71,949.23 L344.49,945.97 L345.37,942.73 L346.35,939.49 L347.43,936.26 L348.61,933.04 L349.88,929.84 L351.25,926.65 L352.72,923.47 L354.28,920.31 L355.94,917.17 L357.70,914.04 L359.55,910.93 L361.49,907.84 L363.53,904.77 L364.05,904.00 L369.33,905.26 L370.09,906.38 L371.31,907.36 L372.91,908.14 L374.80,908.66 L376.86,908.90 L378.95,908.84 L380.96,908.48 L382.74,907.85 L384.20,906.98 L385.24,905.93 L385.79,904.77 L385.83,903.57 L385.34,902.39 L384.37,901.32 L382.96,900.43 L381.22,899.76 L379.23,899.36 L377.14,899.26 L375.07,899.46 L373.16,899.95 L367.88,898.69 L370.19,895.68 L372.60,892.70 L375.09,889.74 L377.67,886.81 L380.35,883.91 L383.11,881.03 L385.95,878.18 L388.89,875.36 L391.91,872.57 L395.01,869.81 L398.19,867.08 L401.46,864.38 L404.81,861.72 L408.24,859.09 L411.75,856.50 L415.34,853.94 L419.00,851.41 L422.74,848.93 L426.56,846.48 L430.45,844.07 L434.41,841.70 L438.44,839.37 L442.55,837.09 L446.72,834.84 L450.96,832.64 L455.26,830.47 L459.63,828.36 L464.07,826.28 L468.56,824.25 L473.12,822.27 L477.74,820.33 L482.41,818.44 L487.14,816.60 L491.93,814.80 L496.77,813.05 L501.66,811.35 L506.61,809.70 L511.60,808.10 L516.64,806.56 L521.73,805.06 L526.86,803.61 L532.04,802.21 L537.25,800.87 L538.57,800.54 L540.75,803.58 L539.91,804.68 L539.56,805.87 L539.74,807.07 L540.43,808.21 L541.59,809.22 L543.15,810.02 L545.01,810.59 L547.05,810.86 L549.15,810.84 L551.17,810.52 L552.99,809.93 L554.50,809.09 L555.60,808.06 L556.22,806.91 L556.33,805.71 L555.92,804.52 L555.01,803.44 L553.65,802.51 L551.95,801.81 L549.99,801.38 L547.81,798.34 L553.14,797.16 L558.50,796.03 L563.90,794.95 L569.34,793.93 L574.80,792.96 L580.29,792.05 L585.81,791.19 L591.35,790.39 L596.92,789.64 L602.51,788.95 L608.11,788.32 L613.74,787.74 L619.38,787.22 L625.04,786.75 L630.71,786.35 L636.40,785.99 L642.09,785.70 L647.79,785.46 L653.50,785.29 L659.21,785.16 L664.93,785.10 L670.64,785.09 L676.36,785.14 L682.07,785.25 L687.78,785.41 L693.48,785.64 L699.18,785.92 L704.86,786.25 L710.54,786.65 L716.20,787.10 L721.85,787.60 L727.48,788.17 L733.09,788.79 L738.68,789.46 L744.26,790.19 L749.81,790.98 L755.33,791.83 L760.83,792.73 L766.30,793.68 L771.74,794.69 L777.15,795.75 L782.52,796.87 L787.86,798.04 L789.19,798.34 L787.01,801.38 L785.05,801.81 L783.35,802.51 L781.99,803.44 L781.08,804.52 L780.67,805.71 L780.78,806.91 L781.40,808.06 L782.50,809.09 L784.01,809.93 L785.83,810.52 L787.85,810.84 L789.95,810.86 L791.99,810.59 L793.85,810.02 L795.41,809.22 L796.57,808.21 L797.26,807.07 L797.44,805.87 L797.09,804.68 L796.25,803.58 L798.43,800.54 L803.66,801.87 L808.85,803.26 L813.99,804.69 L819.09,806.18 L824.14,807.71 L829.15,809.30 L834.10,810.94 L839.01,812.62 L843.86,814.36 L848.66,816.14 L853.41,817.97 L858.10,819.85 L862.73,821.78 L867.30,823.75 L871.81,825.77 L876.26,827.83 L880.65,829.94 L884.97,832.09 L889.23,834.28 L893.42,836.52 L897.54,838.80 L901.59,841.12 L905.57,843.48 L909.47,845.87 L913.31,848.31 L917.07,850.79 L920.75,853.30 L924.36,855.85 L927.89,858.44 L931.34,861.06 L934.71,863.71 L938.00,866.40 L941.20,869.12 L944.33,871.87 L947.36,874.66 L950.32,877.47 L953.19,880.31 L955.97,883.18 L958.66,886.08 L961.27,889.01 L963.79,891.96 L966.21,894.93 L968.55,897.93 L969.12,898.69 L963.84,899.95 L961.93,899.46 L959.86,899.26 L957.77,899.36 L955.78,899.76 L954.04,900.43 L952.63,901.32 L951.66,902.39 L951.17,903.57 L951.21,904.77 L951.76,905.93 L952.80,906.98 L954.26,907.85 L956.04,908.48 L958.05,908.84 L960.14,908.90 L962.20,908.66 L964.09,908.14 L965.69,907.36 L966.91,906.38 L967.67,905.26 L972.95,904.00 L975.01,907.07 L976.98,910.15 L978.85,913.26 L980.63,916.38 L982.31,919.52 L983.90,922.68 L985.39,925.85 L986.78,929.04 L988.08,932.24 L989.28,935.45 L990.38,938.68 L991.39,941.91 L992.30,945.16 L993.10,948.41 L993.81,951.67 L994.42,954.94 L994.93,958.21 L995.34,961.49 L995.66,964.77 L995.87,968.06 L995.98,971.35 L996.00,973.40 Z" stroke="#000" stroke-width="1.3" fill="#fff" />
<path d="M996.00,971.50 L995.95,974.79 L995.80,978.07 L995.55,981.36 L995.20,984.64 L994.75,987.91 L994.21,991.18 L993.56,994.45 L992.81,997.71 L991.97,1000.96 L991.02,1004.20 L989.98,1007.43 L988.84,1010.65 L987.61,1013.86 L986.27,1017.06 L984.84,1020.24 L983.31,1023.41 L981.69,1026.56 L979.97,1029.69 L978.16,1032.81 L976.25,1035.91 L974.25,1038.99 L972.95,1040.90 L967.67,1039.64 L966.91,1038.52 L965.69,1037.54 L964.09,1036.76 L962.20,1036.24 L960.14,1036.00 L958.05,1036.06 L956.04,1036.42 L954.26,1037.05 L952.80,1037.92 L951.76,1038.97 L951.21,1040.13 L951.17,1041.33 L951.66,1042.51 L952.63,1043.58 L954.04,1044.47 L955.78,1045.14 L957.77,1045.54 L959.86,1045.64 L961.93,1045.44 L963.84,1044.95 L969.12,1046.21 L966.81,1049.22 L964.40,1052.20 L961.91,1055.16 L959.33,1058.09 L956.65,1060.99 L953.89,1063.87 L951.05,1066.72 L948.11,1069.54 L945.09,1072.33 L941.99,1075.09 L938.81,1077.82 L935.54,1080.52 L932.19,1083.18 L928.76,1085.81 L925.25,1088.40 L921.66,1090.96 L918.00,1093.49 L914.26,1095.97 L910.44,1098.42 L906.55,1100.83 L902.59,1103.20 L898.56,1105.53 L894.45,1107.81 L890.28,1110.06 L886.04,1112.26 L881.74,1114.43 L877.37,1116.54 L872.93,1118.62 L868.44,1120.65 L863.88,1122.63 L859.26,1124.57 L854.59,1126.46 L849.86,1128.30 L845.07,1130.10 L840.23,1131.85 L835.34,1133.55 L830.39,1135.20 L825.40,1136.80 L820.36,1138.34 L815.27,1139.84 L810.14,1141.29 L804.96,1142.69 L799.75,1144.03 L798.43,1144.36 L796.25,1141.32 L797.09,1140.22 L797.44,1139.03 L797.26,1137.83 L796.57,1136.69 L795.41,1135.68 L793.85,1134.88 L791.99,1134.31 L789.95,1134.04 L787.85,1134.06 L785.83,1134.38 L784.01,1134.97 L782.50,1135.81 L781.40,1136.84 L780.78,1137.99 L780.67,1139.19 L781.08,1140.38 L781.99,1141.46 L783.35,1142.39 L785.05,1143.09 L787.01,1143.52 L789.19,1146.56 L783.86,1147.74 L778.50,1148.87 L773.10,1149.95 L767.66,1150.97 L762.20,1151.94 L756.71,1152.85 L751.19,1153.71 L745.65,1154.51 L740.08,1155.26 L734.49,1155.95 L728.89,1156.58 L723.26,1157.16 L717.62,1157.68 L711.96,1158.15 L706.29,1158.55 L700.60,1158.91 L694.91,1159.20 L689.21,1159.44 L683.50,1159.61 L677.79,1159.74 L672.07,1159.80 L666.36,1159.81 L660.64,1159.76 L654.93,1159.65 L649.22,1159.49 L643.52,1159.26 L637.82,1158.98 L632.14,1158.65 L626.46,1158.25 L620.80,1157.80 L615.15,1157.30 L609.52,1156.73 L603.91,1156.11 L598.32,1155.44 L592.74,1154.71 L587.19,1153.92 L581.67,1153.07 L576.17,1152.17 L570.70,1151.22 L565.26,1150.21 L559.85,1149.15 L554.48,1148.03 L549.14,1146.86 L547.81,1146.56 L549.99,1143.52 L551.95,1143.09 L553.65,1142.39 L555.01,1141.46 L555.92,1140.38 L556.33,1139.19 L556.22,1137.99 L555.60,1136.84 L554.50,1135.81 L552.99,1134.97 L551.17,1134.38 L549.15,1134.06 L547.05,1134.04 L545.01,1134.31 L543.15,1134.88 L541.59,1135.68 L540.43,1136.69 L539.74,1137.83 L539.56,1139.03 L539.91,1140.22 L540.75,1141.32 L538.57,1144.36 L533.34,1143.03 L528.15,1141.64 L523.01,1140.21 L517.91,1138.72 L512.86,1137.19 L507.85,1135.60 L502.90,1133.96 L497.99,1132.28 L493.14,1130.54 L488.34,1128.76 L483.59,1126.93 L478.90,1125.05 L474.27,1123.12 L469.70,1121.15 L465.19,1119.13 L460.74,1117.07 L456.35,1114.96 L452.03,1112.81 L447.77,1110.62 L443.58,1108.38 L439.46,1106.10 L435.41,1103.78 L431.43,1101.42 L427.53,1099.03 L423.69,1096.59 L419.93,1094.11 L416.25,1091.60 L412.64,1089.05 L409.11,1086.46 L405.66,1083.84 L402.29,1081.19 L399.00,1078.50 L395.80,1075.78 L392.67,1073.03 L389.64,1070.24 L386.68,1067.43 L383.81,1064.59 L381.03,1061.72 L378.34,1058.82 L375.73,1055.89 L373.21,1052.94 L370.79,1049.97 L368.45,1046.97 L367.88,1046.21 L373.16,1044.95 L375.07,1045.44 L377.14,1045.64 L379.23,1045.54 L381.22,1045.14 L382.96,1044.47 L384.37,1043.58 L385.34,1042.51 L385.83,1041.33 L385.79,1040.13 L385.24,1038.97 L384.20,1037.92 L382.74,1037.05 L380.96,1036.42 L378.95,1036.06 L376.86,1036.00 L374.80,1036.24 L372.91,1036.76 L371.31,1037.54 L370.09,1038.52 L369.33,1039.64 L364.05,1040.90 L361.99,1037.83 L360.02,1034.75 L358.15,1031.64 L356.37,1028.52 L354.69,1025.38 L353.10,1022.22 L351.61,1019.05 L350.22,1015.86 L348.92,1012.66 L347.72,1009.45 L346.62,1006.22 L345.61,1002.99 L344.70,999.74 L343.90,996.49 L343.19,993.23 L342.58,989.96 L342.07,986.69 L341.66,983.41 L341.34,980.13 L341.13,976.84 L341.02,973.55 L341.01,970.27 L341.09,966.98 L341.28,963.70 L341.57,960.41 L341.95,957.14 L342.44,953.86 L343.02,950.59 L343.71,947.33 L344.49,944.07 L345.37,940.83 L346.35,937.59 L347.43,934.36 L348.61,931.14 L349.88,927.94 L351.25,924.75 L352.72,921.57 L354.28,918.41 L355.94,915.27 L357.70,912.14 L359.55,909.03 L361.49,905.94 L363.53,902.87 L364.05,902.10 L369.33,903.36 L370.09,904.48 L371.31,905.46 L372.91,906.24 L374.80,906.76 L376.86,907.00 L378.95,906.94 L380.96,906.58 L382.74,905.95 L384.20,905.08 L385.24,904.03 L385.79,902.87 L385.83,901.67 L385.34,900.49 L384.37,899.42 L382.96,898.53 L381.22,897.86 L379.23,897.46 L377.14,897.36 L375.07,897.56 L373.16,898.05 L367.88,896.79 L370.19,893.78 L372.60,890.80 L375.09,887.84 L377.67,884.91 L380.35,882.01 L383.11,879.13 L385.95,876.28 L388.89,873.46 L391.91,870.67 L395.01,867.91 L398.19,865.18 L401.46,862.48 L404.81,859.82 L408.24,857.19 L411.75,854.60 L415.34,852.04 L419.00,849.51 L422.74,847.03 L426.56,844.58 L430.45,842.17 L434.41,839.80 L438.44,837.47 L442.55,835.19 L446.72,832.94 L450.96,830.74 L455.26,828.57 L459.63,826.46 L464.07,824.38 L468.56,822.35 L473.12,820.37 L477.74,818.43 L482.41,816.54 L487.14,814.70 L491.93,812.90 L496.77,811.15 L501.66,809.45 L506.61,807.80 L511.60,806.20 L516.64,804.66 L521.73,803.16 L526.86,801.71 L532.04,800.31 L537.25,798.97 L538.57,798.64 L540.75,801.68 L539.91,802.78 L539.56,803.97 L539.74,805.17 L540.43,806.31 L541.59,807.32 L543.15,808.12 L545.01,808.69 L547.05,808.96 L549.15,808.94 L551.17,808.62 L552.99,808.03 L554.50,807.19 L555.60,806.16 L556.22,805.01 L556.33,803.81 L555.92,802.62 L555.01,801.54 L553.65,800.61 L551.95,799.91 L549.99,799.48 L547.81,796.44 L553.14,795.26 L558.50,794.13 L563.90,793.05 L569.34,792.03 L574.80,791.06 L580.29,790.15 L585.81,789.29 L591.35,788.49 L596.92,787.74 L602.51,787.05 L608.11,786.42 L613.74,785.84 L619.38,785.32 L625.04,784.85 L630.71,784.45 L636.40,784.09 L642.09,783.80 L647.79,783.56 L653.50,783.39 L659.21,783.26 L664.93,783.20 L670.64,783.19 L676.36,783.24 L682.07,783.35 L687.78,783.51 L693.48,783.74 L699.18,784.02 L704.86,784.35 L710.54,784.75 L716.20,785.20 L721.85,785.70 L727.48,786.27 L733.09,786.89 L738.68,787.56 L744.26,788.29 L749.81,789.08 L755.33,789.93 L760.83,790.83 L766.30,791.78 L771.74,792.79 L777.15,793.85 L782.52,794.97 L787.86,796.14 L789.19,796.44 L787.01,799.48 L785.05,799.91 L783.35,800.61 L781.99,801.54 L781.08,802.62 L780.67,803.81 L780.78,805.01 L781.40,806.16 L782.50,807.19 L784.01,808.03 L785.83,808.62 L787.85,808.94 L789.95,808.96 L791.99,808.69 L793.85,808.12 L795.41,807.32 L796.57,806.31 L797.26,805.17 L797.44,803.97 L797.09,802.78 L796.25,801.68 L798.43,798.64 L803.66,799.97 L808.85,801.36 L813.99,802.79 L819.09,804.28 L824.14,805.81 L829.15,807.40 L834.10,809.04 L839.01,810.72 L843.86,812.46 L848.66,814.24 L853.41,816.07 L858.10,817.95 L862.73,819.88 L867.30,821.85 L871.81,823.87 L876.26,825.93 L880.65,828.04 L884.97,830.19 L889.23,832.38 L893.42,834.62 L897.54,836.90 L901.59,839.22 L905.57,841.58 L909.47,843.97 L913.31,846.41 L917.07,848.89 L920.75,851.40 L924.36,853.95 L927.89,856.54 L931.34,859.16 L934.71,861.81 L938.00,864.50 L941.20,867.22 L944.33,869.97 L947.36,872.76 L950.32,875.57 L953.19,878.41 L955.97,881.28 L958.66,884.18 L961.27,887.11 L963.79,890.06 L966.21,893.03 L968.55,896.03 L969.12,896.79 L963.84,898.05 L961.93,897.56 L959.86,897.36 L957.77,897.46 L955.78,897.86 L954.04,898.53 L952.63,899.42 L951.66,900.49 L951.17,901.67 L951.21,902.87 L951.76,904.03 L952.80,905.08 L954.26,905.95 L956.04,906.58 L958.05,906.94 L960.14,907.00 L962.20,906.76 L964.09,906.24 L965.69,905.46 L966.91,904.48 L967.67,903.36 L972.95,902.10 L975.01,905.17 L976.98,908.25 L978.85,911.36 L980.63,914.48 L982.31,917.62 L983.90,920.78 L985.39,923.95 L986.78,927.14 L988.08,930.34 L989.28,933.55 L990.38,936.78 L991.39,940.01 L992.30,943.26 L993.10,946.51 L993.81,949.77 L994.42,953.04 L994.93,956.31 L995.34,959.59 L995.66,962.87 L995.87,966.16 L995.98,969.45 L996.00,971.50 Z" stroke="#000" stroke-width="1.4" fill="#fff" />
<path d="M370.9,953.3 A297.0,170.77499999999998 0 0 1 966.1,953.3 L966.1,971.5 A297.6,171.12 0 0 1 370.9,971.5 Z" stroke="#000" stroke-width="0" fill="#fff" stroke="none"/>
<path d="M966.1,953.3 L966.1,971.5 A297.6,171.12 0 0 1 370.9,971.5 L370.9,953.3" stroke="#000" stroke-width="1.5" fill="none" />
<path d="M964.78,974.11 A297.00,170.77 0 0 1 372.22,974.11" stroke="#000" stroke-width="0.9" fill="none" />
<path d="M965.32,972.46 A297.00,170.77 0 0 1 371.68,972.46" stroke="#000" stroke-width="1.0" fill="none" />
<path d="M965.75,971.88 A297.30,170.95 0 0 1 371.25,971.88" stroke="#000" stroke-width="1.0" fill="none" />
<path d="M371.50,953.30 A297.00,170.77 0 1 0 965.50,953.30 A297.00,170.77 0 1 0 371.50,953.30 Z" stroke="#000" stroke-width="1.5" fill="#fff" />
<path d="M374.10,953.30 A294.40,169.28 0 1 0 962.90,953.30 A294.40,169.28 0 1 0 374.10,953.30 Z" stroke="#000" stroke-width="1.1" fill="none" />
<path d="M374.50,953.74 A294.40,169.28 0 0 1 962.50,953.74" stroke="#000" stroke-width="1.0" fill="none" />
<path d="M389.50,962.50 A279.00,160.42 0 1 0 947.50,962.50 A279.00,160.42 0 1 0 389.50,962.50 Z" stroke="#000" stroke-width="1.3" fill="none" />
<path d="M393.50,961.50 A275.00,158.12 0 1 0 943.50,961.50 A275.00,158.12 0 1 0 393.50,961.50 Z" stroke="#000" stroke-width="1.0" fill="none" />
<path d="M446.50,961.50 A222.00,127.65 0 1 0 890.50,961.50 A222.00,127.65 0 1 0 446.50,961.50 Z" stroke="#000" stroke-width="1.2" fill="none" />
<path d="M452.50,963.50 A216.00,124.20 0 1 0 884.50,963.50 A216.00,124.20 0 1 0 452.50,963.50 Z" stroke="#000" stroke-width="1.3" fill="none" />
<path d="M467.30,954.10 A201.20,115.69 0 1 0 869.70,954.10 A201.20,115.69 0 1 0 467.30,954.10 Z" stroke="#000" stroke-width="1.4" fill="#fff" />
<path d="M870.50,962.50 A202.00,116.15 0 0 1 466.50,962.50" stroke="#000" stroke-width="0.9" fill="none" />
<path d="M469.50,954.10 A199.00,114.42 0 1 0 867.50,954.10 A199.00,114.42 0 1 0 469.50,954.10 Z" stroke="#000" stroke-width="1.0" fill="none" />
<path d="M472.58,949.66 A197.00,113.27 0 0 1 864.42,949.66" stroke="#000" stroke-width="1.0" fill="none" />
<path d="M471.98,957.30 A197.00,113.27 0 0 1 865.02,957.30" stroke="#000" stroke-width="1.0" fill="none" />
<path d="M472.02,963.75 A196.60,113.04 0 0 1 864.98,963.75" stroke="#000" stroke-width="1.0" fill="none" />
<path d="M472.20,971.00 A196.30,112.87 0 0 1 864.80,971.00" stroke="#000" stroke-width="1.3" fill="none" />
<clipPath id="bore"><ellipse cx="668.5" cy="972" rx="152.4" ry="87.63"/></clipPath>
<path d="M516.10,972.00 A152.40,87.63 0 1 0 820.90,972.00 A152.40,87.63 0 1 0 516.10,972.00 Z" stroke="#000" stroke-width="1.4" fill="#fff" />
<g clip-path="url(#bore)">
<path d="M520.00,974.10 A148.50,85.39 0 1 0 817.00,974.10 A148.50,85.39 0 1 0 520.00,974.10 Z" stroke="#000" stroke-width="1.3" fill="none" />
<path d="M520.00,980.30 A148.50,85.39 0 0 1 817.00,980.30" stroke="#000" stroke-width="1.0" fill="none" />
<path d="M520.00,987.80 A148.50,85.39 0 0 1 817.00,987.80" stroke="#000" stroke-width="1.0" fill="none" />
<path d="M518.50,1065.80 A150.00,86.25 0 0 1 818.50,1065.80" stroke="#000" stroke-width="1.1" fill="none" />
<path d="M525.50,1082.80 A143.00,82.22 0 0 1 811.50,1082.80" stroke="#000" stroke-width="1.1" fill="none" />
<path d="M537.00,1095.60 A131.50,75.61 0 0 1 800.00,1095.60" stroke="#000" stroke-width="1.1" fill="none" />
<path d="M541.00,1105.40 A127.50,73.31 0 0 1 796.00,1105.40" stroke="#000" stroke-width="1.1" fill="none" />
</g>
<ellipse cx="555.8" cy="803.8" rx="3.0" ry="2.6" transform="rotate(-20 555.8 803.8)" fill="#fff" stroke="#000" stroke-width="1.2"/>
<path d="M553.55,804.00 A2.40,2.08 0 0 1 557.60,802.37" transform="rotate(-20 555.8 803.8)" fill="none" stroke="#000" stroke-width="0.8"/>
<ellipse cx="592.0" cy="854.0" rx="3.2" ry="2.7" transform="rotate(-20 592.0 854.0)" fill="#fff" stroke="#000" stroke-width="1.2"/>
<path d="M589.60,854.20 A2.56,2.16 0 0 1 593.92,852.51" transform="rotate(-20 592.0 854.0)" fill="none" stroke="#000" stroke-width="0.8"/>
<ellipse cx="745.6" cy="1069.3" rx="3.4" ry="2.7" transform="rotate(-25 745.6 1069.3)" fill="#fff" stroke="#000" stroke-width="1.2"/>
<path d="M743.05,1069.50 A2.72,2.16 0 0 1 747.64,1067.82" transform="rotate(-25 745.6 1069.3)" fill="none" stroke="#000" stroke-width="0.8"/>
<ellipse cx="781.5" cy="1118.2" rx="3.4" ry="2.7" transform="rotate(-30 781.5 1118.2)" fill="#fff" stroke="#000" stroke-width="1.2"/>
<path d="M778.95,1118.40 A2.72,2.16 0 0 1 783.54,1116.72" transform="rotate(-30 781.5 1118.2)" fill="none" stroke="#000" stroke-width="0.8"/>
<ellipse cx="853.0" cy="914.0" rx="1.3" ry="3.3" transform="rotate(-20.0 853.0 914.0)" fill="#fff" stroke="#000" stroke-width="1.0"/>
<ellipse cx="478.8" cy="1005.5" rx="1.3" ry="3.3" transform="rotate(20.0 478.8 1005.5)" fill="#fff" stroke="#000" stroke-width="1.0"/>
<ellipse cx="938.9" cy="897.2" rx="1.3" ry="3.3" transform="rotate(-18.333333333333332 938.9 897.2)" fill="#fff" stroke="#000" stroke-width="1.0"/>
<ellipse cx="394.5" cy="1026.5" rx="1.3" ry="3.3" transform="rotate(18.333333333333332 394.5 1026.5)" fill="#fff" stroke="#000" stroke-width="1.0"/>
<ellipse cx="668.50" cy="818.30" rx="14.6" ry="8.4" fill="#fff" stroke="#000" stroke-width="1.6"/>
<ellipse cx="668.50" cy="817.00" rx="13.6" ry="7.7" fill="#fff" stroke="#000" stroke-width="1.2"/>
<path d="M655.75,814.90 L655.75,791.80 C655.75,785.30 660.00,781.90 668.50,781.90 C677.00,781.90 681.25,785.30 681.25,791.80 L681.25,814.90 A12.75,7.3 0 0 1 655.75,814.90 Z" fill="#fff" stroke="#000" stroke-width="1.5"/>
<path d="M655.75,791.80 A12.75,7.3 0 0 0 681.25,791.80" fill="none" stroke="#000" stroke-width="1.1"/>
<path d="M659.00,786.80 A9.5,5.5 0 0 0 678.00,786.80" fill="none" stroke="#000" stroke-width="1.0"/>
<ellipse cx="668.50" cy="784.70" rx="2.1" ry="1.6" fill="#fff" stroke="#000" stroke-width="0.9"/>
<ellipse cx="492.78" cy="860.27" rx="14.6" ry="8.4" fill="#fff" stroke="#000" stroke-width="1.6"/>
<ellipse cx="492.78" cy="858.97" rx="13.6" ry="7.7" fill="#fff" stroke="#000" stroke-width="1.2"/>
<path d="M480.03,856.87 L480.03,833.77 C480.03,827.27 484.28,823.87 492.78,823.87 C501.28,823.87 505.53,827.27 505.53,833.77 L505.53,856.87 A12.75,7.3 0 0 1 480.03,856.87 Z" fill="#fff" stroke="#000" stroke-width="1.5"/>
<path d="M480.03,833.77 A12.75,7.3 0 0 0 505.53,833.77" fill="none" stroke="#000" stroke-width="1.1"/>
<path d="M483.28,828.77 A9.5,5.5 0 0 0 502.28,828.77" fill="none" stroke="#000" stroke-width="1.0"/>
<ellipse cx="492.78" cy="826.67" rx="2.1" ry="1.6" fill="#fff" stroke="#000" stroke-width="0.9"/>
<ellipse cx="844.22" cy="860.27" rx="14.6" ry="8.4" fill="#fff" stroke="#000" stroke-width="1.6"/>
<ellipse cx="844.22" cy="858.97" rx="13.6" ry="7.7" fill="#fff" stroke="#000" stroke-width="1.2"/>
<path d="M831.47,856.87 L831.47,833.77 C831.47,827.27 835.72,823.87 844.22,823.87 C852.72,823.87 856.97,827.27 856.97,833.77 L856.97,856.87 A12.75,7.3 0 0 1 831.47,856.87 Z" fill="#fff" stroke="#000" stroke-width="1.5"/>
<path d="M831.47,833.77 A12.75,7.3 0 0 0 856.97,833.77" fill="none" stroke="#000" stroke-width="1.1"/>
<path d="M834.72,828.77 A9.5,5.5 0 0 0 853.72,828.77" fill="none" stroke="#000" stroke-width="1.0"/>
<ellipse cx="844.22" cy="826.67" rx="2.1" ry="1.6" fill="#fff" stroke="#000" stroke-width="0.9"/>
<ellipse cx="917.00" cy="961.60" rx="14.6" ry="8.4" fill="#fff" stroke="#000" stroke-width="1.6"/>
<ellipse cx="917.00" cy="960.30" rx="13.6" ry="7.7" fill="#fff" stroke="#000" stroke-width="1.2"/>
<path d="M904.25,958.20 L904.25,935.10 C904.25,928.60 908.50,925.20 917.00,925.20 C925.50,925.20 929.75,928.60 929.75,935.10 L929.75,958.20 A12.75,7.3 0 0 1 904.25,958.20 Z" fill="#fff" stroke="#000" stroke-width="1.5"/>
<path d="M904.25,935.10 A12.75,7.3 0 0 0 929.75,935.10" fill="none" stroke="#000" stroke-width="1.1"/>
<path d="M907.50,930.10 A9.5,5.5 0 0 0 926.50,930.10" fill="none" stroke="#000" stroke-width="1.0"/>
<ellipse cx="917.00" cy="928.00" rx="2.1" ry="1.6" fill="#fff" stroke="#000" stroke-width="0.9"/>
<ellipse cx="420.00" cy="961.60" rx="14.6" ry="8.4" fill="#fff" stroke="#000" stroke-width="1.6"/>
<ellipse cx="420.00" cy="960.30" rx="13.6" ry="7.7" fill="#fff" stroke="#000" stroke-width="1.2"/>
<path d="M407.25,958.20 L407.25,935.10 C407.25,928.60 411.50,925.20 420.00,925.20 C428.50,925.20 432.75,928.60 432.75,935.10 L432.75,958.20 A12.75,7.3 0 0 1 407.25,958.20 Z" fill="#fff" stroke="#000" stroke-width="1.5"/>
<path d="M407.25,935.10 A12.75,7.3 0 0 0 432.75,935.10" fill="none" stroke="#000" stroke-width="1.1"/>
<path d="M410.50,930.10 A9.5,5.5 0 0 0 429.50,930.10" fill="none" stroke="#000" stroke-width="1.0"/>
<ellipse cx="420.00" cy="928.00" rx="2.1" ry="1.6" fill="#fff" stroke="#000" stroke-width="0.9"/>
<ellipse cx="844.22" cy="1062.93" rx="14.6" ry="8.4" fill="#fff" stroke="#000" stroke-width="1.6"/>
<ellipse cx="844.22" cy="1061.63" rx="13.6" ry="7.7" fill="#fff" stroke="#000" stroke-width="1.2"/>
<path d="M831.47,1059.53 L831.47,1036.43 C831.47,1029.93 835.72,1026.53 844.22,1026.53 C852.72,1026.53 856.97,1029.93 856.97,1036.43 L856.97,1059.53 A12.75,7.3 0 0 1 831.47,1059.53 Z" fill="#fff" stroke="#000" stroke-width="1.5"/>
<path d="M831.47,1036.43 A12.75,7.3 0 0 0 856.97,1036.43" fill="none" stroke="#000" stroke-width="1.1"/>
<path d="M834.72,1031.43 A9.5,5.5 0 0 0 853.72,1031.43" fill="none" stroke="#000" stroke-width="1.0"/>
<ellipse cx="844.22" cy="1029.33" rx="2.1" ry="1.6" fill="#fff" stroke="#000" stroke-width="0.9"/>
<ellipse cx="492.78" cy="1062.93" rx="14.6" ry="8.4" fill="#fff" stroke="#000" stroke-width="1.6"/>
<ellipse cx="492.78" cy="1061.63" rx="13.6" ry="7.7" fill="#fff" stroke="#000" stroke-width="1.2"/>
<path d="M480.03,1059.53 L480.03,1036.43 C480.03,1029.93 484.28,1026.53 492.78,1026.53 C501.28,1026.53 505.53,1029.93 505.53,1036.43 L505.53,1059.53 A12.75,7.3 0 0 1 480.03,1059.53 Z" fill="#fff" stroke="#000" stroke-width="1.5"/>
<path d="M480.03,1036.43 A12.75,7.3 0 0 0 505.53,1036.43" fill="none" stroke="#000" stroke-width="1.1"/>
<path d="M483.28,1031.43 A9.5,5.5 0 0 0 502.28,1031.43" fill="none" stroke="#000" stroke-width="1.0"/>
<ellipse cx="492.78" cy="1029.33" rx="2.1" ry="1.6" fill="#fff" stroke="#000" stroke-width="0.9"/>
<ellipse cx="668.50" cy="1104.90" rx="14.6" ry="8.4" fill="#fff" stroke="#000" stroke-width="1.6"/>
<ellipse cx="668.50" cy="1103.60" rx="13.6" ry="7.7" fill="#fff" stroke="#000" stroke-width="1.2"/>
<path d="M655.75,1101.50 L655.75,1078.40 C655.75,1071.90 660.00,1068.50 668.50,1068.50 C677.00,1068.50 681.25,1071.90 681.25,1078.40 L681.25,1101.50 A12.75,7.3 0 0 1 655.75,1101.50 Z" fill="#fff" stroke="#000" stroke-width="1.5"/>
<path d="M655.75,1078.40 A12.75,7.3 0 0 0 681.25,1078.40" fill="none" stroke="#000" stroke-width="1.1"/>
<path d="M659.00,1073.40 A9.5,5.5 0 0 0 678.00,1073.40" fill="none" stroke="#000" stroke-width="1.0"/>
<ellipse cx="668.50" cy="1071.30" rx="2.1" ry="1.6" fill="#fff" stroke="#000" stroke-width="0.9"/>
</svg>
</body></html>
